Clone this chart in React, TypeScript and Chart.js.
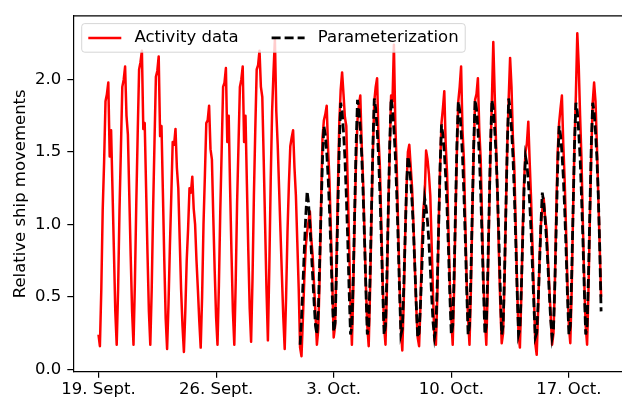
import React, { useEffect, useRef } from "react";
import { Chart, registerables } from "chart.js";

Chart.register(...registerables);

// Sampling step (hours) of both series; first sample at 19 Sept 00:00
const stepHours = 2;

// Activity data: one row per day (00,02,...,22 h), 19 Sept .. 18 Oct
const activityData: number[] = [
  0.24, 0.16, 0.55, 1.10, 1.43, 1.85, 1.90, 1.98, 1.47, 1.65, 1.24, 0.82, // 19 Sept
  0.40, 0.17, 0.55, 1.10, 1.52, 1.95, 2.00, 2.09, 1.75, 1.62, 1.20, 0.78, // 20
  0.40, 0.17, 0.60, 1.15, 1.63, 2.07, 2.12, 2.20, 1.66, 1.70, 1.25, 0.80, // 21
  0.40, 0.17, 0.55, 1.10, 1.57, 2.02, 2.06, 2.16, 1.61, 1.68, 1.22, 0.75, // 22
  0.35, 0.14, 0.45, 0.85, 1.20, 1.57, 1.55, 1.66, 1.39, 1.25, 0.90, 0.55, // 23
  0.30, 0.12, 0.40, 0.75, 0.97, 1.25, 1.22, 1.33, 1.11, 1.00, 0.75, 0.55, // 24
  0.33, 0.15, 0.50, 1.00, 1.34, 1.70, 1.72, 1.82, 1.52, 1.45, 1.05, 0.68, // 25
  0.36, 0.17, 0.58, 1.10, 1.52, 1.95, 1.98, 2.08, 1.57, 1.75, 1.25, 0.80, // 26
  0.40, 0.17, 0.60, 1.15, 1.55, 1.95, 2.00, 2.09, 1.57, 1.75, 1.28, 0.82, // 27
  0.42, 0.19, 0.62, 1.20, 1.66, 2.07, 2.10, 2.20, 1.95, 1.88, 1.45, 1.00, // 28
  0.55, 0.20, 0.70, 1.30, 1.78, 2.05, 2.28, 1.78, 1.55, 1.25, 0.95, 0.65, // 29
  0.36, 0.14, 0.50, 0.95, 1.28, 1.54, 1.60, 1.65, 1.39, 1.20, 0.88, 0.56, // 30 Sept
  0.15, 0.09, 0.35, 0.62, 0.84, 0.95, 1.02, 1.09, 0.90, 0.78, 0.58, 0.38, // 1 Oct
  0.17, 0.28, 0.65, 1.15, 1.60, 1.72, 1.76, 1.82, 1.52, 1.30, 0.95, 0.60, // 2
  0.22, 0.30, 0.75, 1.25, 1.70, 1.93, 2.05, 1.90, 1.74, 1.68, 1.28, 0.88, // 3
  0.45, 0.17, 0.55, 1.05, 1.45, 1.72, 1.82, 1.89, 1.55, 1.30, 0.95, 0.58, // 4
  0.30, 0.16, 0.55, 1.05, 1.50, 1.85, 1.95, 2.01, 1.60, 1.40, 1.00, 0.60, // 5
  0.30, 0.17, 0.55, 1.10, 1.50, 1.89, 1.85, 2.24, 1.70, 1.40, 1.00, 0.60, // 6
  0.28, 0.13, 0.45, 0.90, 1.25, 1.50, 1.55, 1.40, 1.25, 1.00, 0.70, 0.42, // 7
  0.22, 0.16, 0.45, 0.85, 1.10, 1.20, 1.51, 1.45, 1.35, 1.20, 0.85, 0.50, // 8
  0.20, 0.17, 0.50, 1.00, 1.40, 1.70, 1.80, 1.92, 1.55, 1.35, 0.95, 0.58, // 9
  0.35, 0.17, 0.55, 1.05, 1.50, 1.85, 1.95, 2.09, 1.65, 1.45, 1.02, 0.60, // 10
  0.35, 0.17, 0.55, 1.05, 1.50, 1.86, 1.90, 2.01, 1.65, 1.45, 1.02, 0.60, // 11
  0.35, 0.17, 0.55, 1.05, 1.50, 1.86, 2.26, 1.90, 1.55, 1.20, 0.80, 0.45, // 12
  0.18, 0.25, 0.60, 1.10, 1.55, 1.87, 2.15, 1.95, 1.60, 1.40, 1.00, 0.58, // 13
  0.25, 0.15, 0.50, 0.95, 1.30, 1.50, 1.56, 1.71, 1.43, 1.17, 0.85, 0.52, // 14
  0.18, 0.10, 0.40, 0.75, 1.00, 1.10, 1.18, 1.05, 0.97, 0.77, 0.57, 0.37, // 15
  0.17, 0.25, 0.60, 1.10, 1.50, 1.70, 1.80, 1.89, 1.55, 1.30, 0.95, 0.58, // 16
  0.30, 0.18, 0.55, 1.10, 1.55, 1.90, 2.32, 2.10, 1.75, 1.45, 1.00, 0.60, // 17
  0.30, 0.17, 0.55, 1.05, 1.50, 1.84, 1.98, 1.85, 1.55, 1.20, 0.85, 0.50, // 18 Oct
];

// Parameterization starts on 1 Oct 00:00 (hour 288)
const parameterizationStartHour = 288;
const parameterization: number[] = [
  0.17, 0.35, 0.58, 0.82, 1.05, 1.23, 1.15, 1.00, 0.82, 0.64, 0.46, 0.30, // 1 Oct
  0.24, 0.40, 0.75, 1.10, 1.45, 1.68, 1.62, 1.50, 1.33, 1.10, 0.82, 0.50, // 2
  0.26, 0.32, 0.68, 1.12, 1.55, 1.84, 1.78, 1.64, 1.46, 1.20, 0.90, 0.55, // 3
  0.24, 0.30, 0.65, 1.10, 1.55, 1.86, 1.80, 1.66, 1.48, 1.22, 0.90, 0.55, // 4
  0.24, 0.30, 0.65, 1.10, 1.55, 1.87, 1.80, 1.66, 1.48, 1.22, 0.90, 0.55, // 5
  0.24, 0.30, 0.65, 1.10, 1.55, 1.87, 1.80, 1.66, 1.48, 1.22, 0.90, 0.55, // 6
  0.24, 0.28, 0.55, 0.90, 1.25, 1.47, 1.42, 1.30, 1.15, 0.95, 0.70, 0.44, // 7
  0.22, 0.25, 0.45, 0.70, 0.98, 1.18, 1.12, 1.02, 0.88, 0.70, 0.50, 0.32, // 8
  0.22, 0.28, 0.60, 1.00, 1.40, 1.69, 1.62, 1.50, 1.33, 1.10, 0.82, 0.50, // 9
  0.24, 0.30, 0.65, 1.10, 1.55, 1.85, 1.79, 1.65, 1.47, 1.21, 0.90, 0.55, // 10
  0.24, 0.30, 0.65, 1.10, 1.55, 1.86, 1.80, 1.66, 1.48, 1.22, 0.90, 0.55, // 11
  0.24, 0.30, 0.65, 1.10, 1.55, 1.86, 1.80, 1.66, 1.48, 1.22, 0.90, 0.55, // 12
  0.24, 0.30, 0.65, 1.10, 1.55, 1.87, 1.80, 1.66, 1.48, 1.22, 0.90, 0.55, // 13
  0.24, 0.28, 0.55, 0.90, 1.25, 1.47, 1.42, 1.30, 1.15, 0.95, 0.70, 0.44, // 14
  0.22, 0.25, 0.45, 0.72, 1.00, 1.22, 1.15, 1.04, 0.90, 0.72, 0.52, 0.34, // 15
  0.22, 0.28, 0.60, 1.00, 1.40, 1.68, 1.62, 1.50, 1.33, 1.10, 0.82, 0.50, // 16
  0.24, 0.30, 0.65, 1.10, 1.55, 1.84, 1.78, 1.64, 1.46, 1.20, 0.90, 0.55, // 17
  0.24, 0.30, 0.65, 1.10, 1.55, 1.84, 1.78, 1.64, 1.46, 1.20, 0.85, 0.40, // 18 Oct
];

const xTickDays = [0, 7, 14, 21, 28];
const xTickLabels = ["19. Sept.", "26. Sept.", "3. Oct.", "10. Oct.", "17. Oct."];
const yTickValues = [0.0, 0.5, 1.0, 1.5, 2.0];

const FONT = "DejaVu Sans";
const FS = 16.5;

const spinePlugin = {
  id: "spines",
  afterDatasetsDraw(chart: any) {
    const { ctx, chartArea: ca } = chart;
    ctx.save();
    ctx.strokeStyle = "#000";
    ctx.lineWidth = 1.2;
    ctx.beginPath();
    ctx.moveTo(ca.left, ca.top);
    ctx.lineTo(ca.right, ca.top);
    ctx.lineTo(ca.right, ca.bottom);
    ctx.stroke();
    ctx.restore();
  },
};

const legendPlugin = {
  id: "mplLegend",
  afterDraw(chart: any) {
    const { ctx, chartArea: ca } = chart;
    ctx.save();
    ctx.font = `${FS}px "${FONT}"`;
    const items = chart.data.datasets.map((ds: any) => ({
      label: ds.label,
      color: ds.borderColor,
      dash: ds.borderDash || [],
      width: ds.borderWidth,
    }));
    const pad = 0.4 * FS;
    const handle = 2 * FS;
    const textPad = 0.8 * FS;
    const colSp = 2 * FS;
    const x0 = ca.left + 8.4;
    const y0 = ca.top + 7.7;
    let w = pad;
    items.forEach((it: any, i: number) => {
      w += handle + textPad + ctx.measureText(it.label).width;
      if (i < items.length - 1) w += colSp;
    });
    w += pad;
    const h = 28.6;
    const r = 3;
    ctx.beginPath();
    ctx.moveTo(x0 + r, y0);
    ctx.lineTo(x0 + w - r, y0);
    ctx.arcTo(x0 + w, y0, x0 + w, y0 + r, r);
    ctx.lineTo(x0 + w, y0 + h - r);
    ctx.arcTo(x0 + w, y0 + h, x0 + w - r, y0 + h, r);
    ctx.lineTo(x0 + r, y0 + h);
    ctx.arcTo(x0, y0 + h, x0, y0 + h - r, r);
    ctx.lineTo(x0, y0 + r);
    ctx.arcTo(x0, y0, x0 + r, y0, r);
    ctx.closePath();
    ctx.fillStyle = "rgba(255,255,255,0.8)";
    ctx.fill();
    ctx.strokeStyle = "rgba(204,204,204,0.8)";
    ctx.lineWidth = 1;
    ctx.stroke();

    const cy = y0 + h / 2;
    let x = x0 + pad;
    items.forEach((it: any) => {
      ctx.beginPath();
      ctx.setLineDash(it.dash);
      ctx.strokeStyle = it.color;
      ctx.lineWidth = it.width;
      ctx.moveTo(x, cy);
      ctx.lineTo(x + handle, cy);
      ctx.stroke();
      ctx.setLineDash([]);
      x += handle + textPad;
      ctx.fillStyle = "#000";
      ctx.textBaseline = "middle";
      ctx.textAlign = "left";
      ctx.fillText(it.label, x, cy);
      x += ctx.measureText(it.label).width + colSp;
    });
    ctx.restore();
  },
};

export default function App() {
  const ref = useRef<HTMLCanvasElement>(null);

  useEffect(() => {
    document.body.style.margin = "0";
    Chart.defaults.font.family = FONT;
    Chart.defaults.font.size = FS;
    Chart.defaults.color = "#000";

    const activityPoints = activityData.map((v, i) => ({ x: i * stepHours, y: v }));
    const paramPoints = parameterization.map((v, i) => ({
      x: parameterizationStartHour + i * stepHours,
      y: v,
    }));

    const axisGrid = {
      drawOnChartArea: false,
      drawTicks: true,
      tickLength: 6,
      color: "#000",
      lineWidth: 1.2,
    };
    const axisBorder = { display: true, color: "#000", width: 1.2 };

    const chart = new Chart(ref.current!, {
      type: "line",
      data: {
        datasets: [
          {
            label: "Activity data",
            data: activityPoints,
            borderColor: "#ff0000",
            borderWidth: 2.5,
            pointRadius: 0,
            tension: 0,
            borderJoinStyle: "round",
            fill: false,
            order: 2,
          },
          {
            label: "Parameterization",
            data: paramPoints,
            borderColor: "#000000",
            borderWidth: 2.8,
            borderDash: [9, 4],
            pointRadius: 0,
            tension: 0,
            fill: false,
            order: 1,
          },
        ],
      },
      options: {
        animation: false,
        responsive: false,
        devicePixelRatio: 1,
        layout: { padding: { top: 12, right: 1, left: 0, bottom: 0 } },
        plugins: { legend: { display: false }, tooltip: { enabled: false } },
        scales: {
          x: {
            type: "linear",
            min: -36,
            max: 755,
            afterBuildTicks: (s: any) => {
              s.ticks = xTickDays.map((d) => ({ value: d * 24 }));
            },
            afterFit: (s: any) => {
              s.height = 26.3;
            },
            ticks: {
              autoSkip: false,
              maxRotation: 0,
              minRotation: 0,
              padding: 2,
              color: "#000",
              font: { size: FS, family: FONT },
              callback: (_v: any, i: number) => xTickLabels[i],
            },
            grid: axisGrid,
            border: axisBorder,
          },
          y: {
            type: "linear",
            min: -0.0164,
            max: 2.44,
            afterBuildTicks: (s: any) => {
              s.ticks = yTickValues.map((v) => ({ value: v }));
            },
            afterFit: (s: any) => {
              s.width = 73.3;
            },
            ticks: {
              padding: 6,
              color: "#000",
              font: { size: FS, family: FONT },
              callback: (v: any) => Number(v).toFixed(1),
            },
            grid: axisGrid,
            border: axisBorder,
            title: {
              display: true,
              text: "Relative ship movements",
              color: "#000",
              font: { size: FS, family: FONT },
              padding: { top: 11, bottom: 0 },
            },
          },
        },
      } as any,
      plugins: [spinePlugin, legendPlugin],
    });
    return () => chart.destroy();
  }, []);

  return (
    <div style={{ width: 622, height: 398, overflow: "hidden", position: "relative", background: "#fff" }}>
      <canvas ref={ref} width={628} height={398} style={{ display: "block", width: 628, height: 398 }} />
    </div>
  );
}
